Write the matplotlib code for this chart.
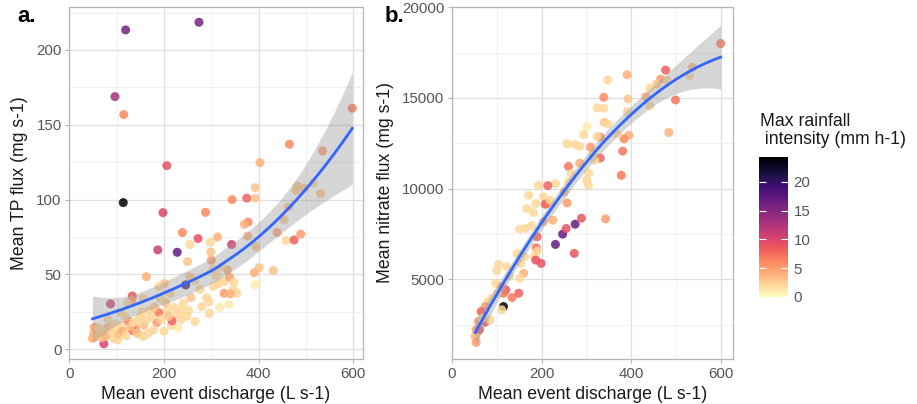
import numpy as np
import matplotlib
matplotlib.use("Agg")
import matplotlib.pyplot as plt
from matplotlib.colors import Normalize
from matplotlib.cm import ScalarMappable
from matplotlib.ticker import MultipleLocator

plt.rcParams['font.family'] = ['Liberation Sans', 'DejaVu Sans']

# ---- Panel a: mean event discharge vs mean TP flux ----
discharge_tp = np.array([
    119, 274, 96.5, 115, 206, 114, 198, 288, 187, 228, 239, 272, 313, 343, 344,
    375, 393, 393, 403, 378, 370, 377, 394, 401, 391, 431, 393, 439, 454, 465,
    458, 475, 489, 482, 479, 497, 531, 535, 516, 598, 463,
    298, 299, 300, 304, 311, 315, 327, 334, 339, 348, 346, 354, 327, 337, 318,
    290, 295, 296, 280, 266, 252, 257, 254, 250, 255, 246, 237, 227, 229, 215,
    217, 206, 204, 201, 189, 189, 185, 174, 163, 156, 153, 146, 148, 167, 140,
    134, 133, 132, 123, 125, 118, 109, 100, 102, 87, 82, 80, 73, 65, 58, 51,
    53, 49, 93, 68, 178, 156, 192, 213, 265, 276, 304, 321, 340, 241, 248,
    56, 60, 62, 70, 75, 78, 85, 90, 95, 105, 108, 112, 120, 128, 135, 142,
    150, 158, 165, 170, 180, 195, 200, 210, 222, 236])
tp_flux = np.array([
    213.4, 218.5, 168.8, 156.8, 122.7, 98, 91.3, 91.5, 66.4, 64.8, 78, 74, 75, 70, 100,
    101, 101, 108, 124.7, 85, 83.5, 75.7, 68.6, 54.6, 51.2, 52.6, 43, 78, 86.4, 137,
    72.6, 73, 77, 109, 106, 107.6, 104, 132.5, 111, 161, 95,
    71.5, 65, 59.5, 53.7, 49.4, 43.9, 45, 53, 48, 44.8, 40, 37.4, 37.4, 30, 28,
    34.5, 31.6, 24, 28.5, 18.5, 26, 34.5, 48.5, 58.6, 70, 43, 26.3, 24, 14.5, 16,
    19, 26, 31, 44, 42, 24.5, 17.8, 22, 48.5, 34, 25, 19.6, 10, 10.7, 14,
    12.5, 35.6, 33, 30.7, 18.5, 21.8, 24.5, 13, 6.2, 30.3, 20, 14, 3.6, 11.8, 8.5, 10.7,
    14.7, 7.3, 7.3, 10.7, 13, 8.5, 34, 37.4, 46, 40, 42, 55, 37, 31, 22,
    12, 9, 14, 8, 12, 9, 15, 11, 17, 10, 16, 12, 9, 15, 18, 11,
    22, 16, 20, 26, 28, 20, 12, 22, 28, 20])
rain_tp = np.array([
    16, 16, 13, 6, 9, 24, 10, 6, 11, 17, 6, 9, 4, 11, 6,
    8, 3, 3, 4, 6, 4, 4, 3, 3, 4, 3, 1, 5, 3, 6,
    2, 8, 5, 3, 3, 3, 3, 5, 2, 7, 3,
    2, 3, 5, 2, 2, 2, 2, 4, 5, 2, 2, 2, 5, 1, 1,
    2, 2, 2, 2, 2, 2, 3, 3, 3, 2, 20, 2, 2, 1, 2,
    8, 2, 3, 3, 2, 7, 5, 2, 4, 2, 2, 2, 2, 2, 5,
    8, 9, 5, 2, 7, 2, 2, 2, 2, 11, 2, 5, 10, 5, 5, 3,
    5, 4, 2, 3, 2, 2, 2, 2, 2, 2, 2, 2, 4, 2, 2,
    4, 3, 2, 3, 2, 4, 3, 2, 2, 3, 2, 4, 2, 3, 2, 3,
    2, 3, 2, 2, 3, 2, 2, 3, 2, 2])

# ---- Panel b: mean event discharge vs mean nitrate flux ----
discharge_no3 = np.array([
    600, 477, 466, 457, 481, 537, 531, 499, 484, 442, 433, 442, 391, 393, 391,
    395, 384, 381, 378, 369, 348, 339, 339, 324, 340, 348, 331, 324, 331, 343,
    301, 294, 285, 275, 257, 285, 260, 266, 260, 251, 257, 305, 301, 305, 314,
    319, 309, 231, 214, 204, 193, 212, 208, 204, 219, 225, 187, 182, 171, 167,
    178, 164, 151, 190, 188, 184, 187, 199, 190, 162, 154, 145, 160, 152, 149,
    128, 122, 120, 134, 115, 115, 104, 100, 98, 101, 111, 89, 80, 74, 70,
    65, 74, 59, 54, 61, 52, 54, 67, 85, 231, 247, 275, 255, 289, 273, 111])
no3_flux = np.array([
    18003, 16538, 16044, 15770, 15952, 16685, 16227, 14890, 13095, 15550, 15073, 14560, 16282, 14945, 14250,
    12950, 12747, 12070, 10733, 13022, 15990, 15037, 14432, 14450, 13663, 13571, 12839, 12875, 11685, 8333,
    13425, 12985, 12326, 12436, 12473, 11410, 11227, 10824, 10366, 9817, 9212, 10861, 10458, 10183, 11923,
    11557, 12290, 10275, 10165, 9542, 10183, 9176, 9139, 8168, 9359, 8260, 9176, 8681, 9634, 8900,
    7949, 7802, 7766, 7344, 6740, 6245, 6062, 5879, 6557, 6245, 5879, 6428, 5330, 5055, 4231,
    5183, 5696, 4414, 3993, 4231, 3498, 5824, 5476, 4780, 4231, 4597, 3956, 3773, 3498, 3132,
    3224, 2637, 2674, 2216, 2216, 1850, 1520, 2857, 2766, 6923, 7491, 8040, 7802, 8370, 6428, 3315])
rain_no3 = np.array([
    7, 8, 5, 3, 2, 4, 2, 7, 4, 2, 4, 2, 4, 3, 2,
    4, 6, 7, 7, 2, 2, 6, 2, 2, 3, 2, 6, 2, 8, 5,
    1, 2, 2, 2, 2, 4, 7, 2, 2, 4, 5, 2, 2, 2, 2,
    2, 5, 2, 8, 2, 2, 5, 8, 4, 2, 4, 2, 2, 2, 2,
    2, 2, 2, 8, 7, 2, 9, 9, 2, 2, 2, 2, 4, 2, 8,
    2, 2, 9, 7, 7, 24, 2, 2, 2, 2, 5, 2, 2, 5, 2,
    8, 9, 5, 5, 9, 4, 5, 2, 2, 17, 17, 17, 9, 9, 9, 2])

rain_ticks = [0, 5, 10, 15, 20]
smooth_span = 1.0


def loess_rows(x, x0s, span):
    """Rows of the local-quadratic (tricube) loess smoother evaluated at x0s."""
    n = len(x)
    q = int(np.floor(n * min(span, 1.0)))
    rows = np.empty((len(x0s), n))
    for k, x0 in enumerate(x0s):
        d = np.abs(x - x0)
        h = np.sort(d)[q - 1] * max(span, 1.0) * 1.0001
        w = np.clip(1 - (d / h) ** 3, 0, None) ** 3
        dx = x - x0
        X = np.column_stack([np.ones(n), dx, dx ** 2])
        XtW = X.T * w
        rows[k] = np.linalg.solve(XtW @ X, XtW)[0]
    return rows


def loess_smooth(x, y, span, n=100, tcrit=1.985):
    """Loess fit with a 95% confidence band."""
    xs_scaled = x / 100.0
    L = loess_rows(xs_scaled, xs_scaled, span)
    resid = y - L @ y
    M = np.eye(len(x)) - L
    delta1 = np.trace(M.T @ M)
    sigma = np.sqrt(resid @ resid / delta1)
    grid = np.linspace(x.min(), x.max(), n)
    G = loess_rows(xs_scaled, grid / 100.0, span)
    fit = G @ y
    se = sigma * np.sqrt((G ** 2).sum(axis=1))
    return grid, fit, fit - tcrit * se, fit + tcrit * se


W, H = 917, 404
fig = plt.figure(figsize=(W / 100, H / 100), dpi=100)

cmap = plt.get_cmap('magma_r')
vmax = max(rain_tp.max(), rain_no3.max()) + 0.3
norm = Normalize(vmin=0, vmax=vmax)

tick_col = '#555555'
grid_major = '#DEDEDE'
grid_minor = '#EEEEEE'
border = '#B5B5B5'


def px_axes(left, top, right, bottom):
    return fig.add_axes([left / W, 1 - bottom / H, (right - left) / W, (bottom - top) / H])


def style(ax, xlim, ylim, ymajor, yminor):
    ax.set_xlim(*xlim)
    ax.set_ylim(*ylim)
    ax.xaxis.set_major_locator(MultipleLocator(200))
    ax.xaxis.set_minor_locator(MultipleLocator(100))
    ax.yaxis.set_major_locator(MultipleLocator(ymajor))
    ax.yaxis.set_minor_locator(MultipleLocator(yminor))
    ax.grid(which='major', color=grid_major, lw=0.9, zorder=0)
    ax.grid(which='minor', color=grid_minor, lw=0.6, zorder=0)
    ax.set_axisbelow(True)
    for sp in ax.spines.values():
        sp.set_color(border)
        sp.set_linewidth(0.9)
    ax.tick_params(which='major', color=border, length=3, width=0.8,
                   labelcolor=tick_col, labelsize=10.8, pad=2.5)
    ax.tick_params(which='minor', length=0)


def panel(ax, x, y, c):
    ax.scatter(x, y, c=c, cmap=cmap, norm=norm, s=42, alpha=0.85,
               edgecolors='none', zorder=2)
    xs, fit, lo, hi = loess_smooth(x.astype(float), y.astype(float), smooth_span)
    ax.fill_between(xs, lo, hi, color='#999999', alpha=0.4, lw=0, zorder=3)
    ax.plot(xs, fit, color='#3366FF', lw=2.0, zorder=4)


# Panel a
ax1 = px_axes(69.3, 6.7, 362.7, 359.3)
panel(ax1, discharge_tp, tp_flux, rain_tp)
style(ax1, (0, 620), (-6.7, 228.9), 50, 25)
ax1.set_xticks([0, 200, 400, 600])
ax1.set_xlabel('Mean event discharge (L s-1)', fontsize=12.7, color='#1a1a1a', labelpad=4)
ax1.set_ylabel('Mean TP flux (mg s-1)', fontsize=12.7, color='#1a1a1a', labelpad=6)

# Panel b
ax2 = px_axes(452, 6.7, 733, 359)
panel(ax2, discharge_no3, no3_flux, rain_no3)
style(ax2, (0, 627.5), (605, 20033), 5000, 2500)
ax2.set_xticks([0, 200, 400, 600])
ax2.set_xlabel('Mean event discharge (L s-1)', fontsize=12.7, color='#1a1a1a', labelpad=4)
ax2.set_ylabel('Mean nitrate flux (mg s-1)', fontsize=12.7, color='#1a1a1a', labelpad=6)

# Panel tags
fig.text(17 / W, 1 - 17 / H, 'a.', fontsize=16, fontweight='bold', va='center', ha='left')
fig.text(385 / W, 1 - 17 / H, 'b.', fontsize=16, fontweight='bold', va='center', ha='left')

# Colour bar
cax = px_axes(759, 157.3, 788, 296.7)
sm = ScalarMappable(norm=norm, cmap=cmap)
cb = fig.colorbar(sm, cax=cax, ticks=rain_ticks)
cb.outline.set_visible(False)
cax.tick_params(axis='y', direction='in', color='white', length=5, width=0.8,
                left=True, right=True, labelleft=False, labelright=True,
                labelcolor=tick_col, labelsize=10.8, pad=4)
fig.text(760.5 / W, 1 - 113 / H, 'Max rainfall\n intensity (mm h-1)', fontsize=12.7,
         color='#1a1a1a', va='top', ha='left', linespacing=1.05)

fig.savefig('out.png', dpi=100)
